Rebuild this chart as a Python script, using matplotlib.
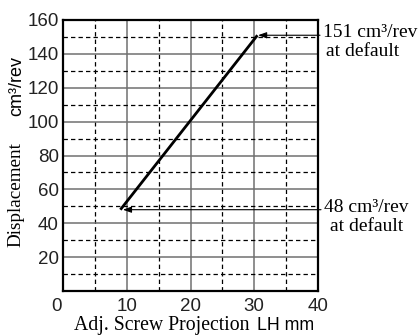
import matplotlib
matplotlib.use('Agg')
import matplotlib.pyplot as plt
import matplotlib.transforms as mtransforms

# data
screw_mm = [9.0, 30.5]
displacement = [48, 151]
x_ticks = [0, 10, 20, 30, 40]
y_ticks = [20, 40, 60, 80, 100, 120, 140, 160]
x_minor = [5, 15, 25, 35]
y_minor = [10, 30, 50, 70, 90, 110, 130, 150]
note_line1 = ['151 cm³/rev', '48 cm³/rev']
note_line2 = ['at default', 'at default']
note_points = [(30.6, 151), (9.4, 48)]

SANS = ['Liberation Sans', 'DejaVu Sans']
SERIF = ['Liberation Serif', 'DejaVu Serif']
W, H = 420, 336

fig = plt.figure(figsize=(4.2, 3.36), dpi=100)
ax = fig.add_axes([63 / W, 45 / H, 255 / W, 271 / H])

ax.plot(screw_mm, displacement, color='black', lw=2, solid_capstyle='butt', zorder=3)

ax.set_xlim(0, 40)
ax.set_ylim(0, 160)
ax.set_xticks(x_ticks)
ax.set_yticks(y_ticks)
ax.set_xticks(x_minor, minor=True)
ax.set_yticks(y_minor, minor=True)
ax.tick_params(which='both', length=0)
ax.tick_params(axis='x', pad=5)
ax.tick_params(axis='y', pad=3)
for lab in ax.get_xticklabels() + ax.get_yticklabels():
    lab.set_fontfamily(SANS)
    lab.set_fontsize(13.5)
    lab.set_color('#222222')

# origin label sits left of the axis corner
shift = mtransforms.ScaledTranslation(-7 / 100, 0, fig.dpi_scale_trans)
xl0 = ax.get_xticklabels()[0]
xl0.set_transform(xl0.get_transform() + shift)

ax.grid(which='major', color='#707070', lw=1.1, ls='-')
ax.grid(which='minor', color='black', lw=0.9, ls=(0, (3.5, 2.5)))
ax.set_axisbelow(True)
for sp in ax.spines.values():
    sp.set_linewidth(1.6)
    sp.set_color('black')

# annotations with arrows (text positions in figure pixels)
text_x1 = [323, 324]
text_x2 = [326, 330]
arrow_x = [320, 321]
for t1, t2, (px, py), x1, x2, axx in zip(note_line1, note_line2, note_points,
                                        text_x1, text_x2, arrow_x):
    ypix = ax.transData.transform((px, py))[1]
    ax.annotate('', xy=(px, py), xytext=(axx, ypix), textcoords='figure pixels',
                arrowprops=dict(arrowstyle='-|>,head_length=0.5,head_width=0.18',
                                color='black', lw=0.8, shrinkA=0, shrinkB=0),
                annotation_clip=False)
    base = ypix - 2
    fig.text(x1 / W, base / H, t1, ha='left', va='baseline',
             fontfamily=SERIF, fontsize=14)
    fig.text(x2 / W, (base - 19) / H, t2, ha='left', va='baseline',
             fontfamily=SERIF, fontsize=14)

# axis titles mixing serif and sans
fig.text(250 / W, 6 / H, 'Adj. Screw Projection', ha='right', va='baseline',
         fontfamily=SERIF, fontsize=14.2)
fig.text(257 / W, 6 / H, 'LH mm', ha='left', va='baseline',
         fontfamily=SANS, fontsize=12.8)
fig.text(16 / W, 1 - 195 / H, 'Displacement', rotation=90, ha='center', va='center',
         fontfamily=SERIF, fontsize=13.8)
fig.text(17 / W, 1 - 86 / H, 'cm³/rev', rotation=90, ha='center', va='center',
         fontfamily=SANS, fontsize=13)

fig.savefig('out.png', dpi=100)
